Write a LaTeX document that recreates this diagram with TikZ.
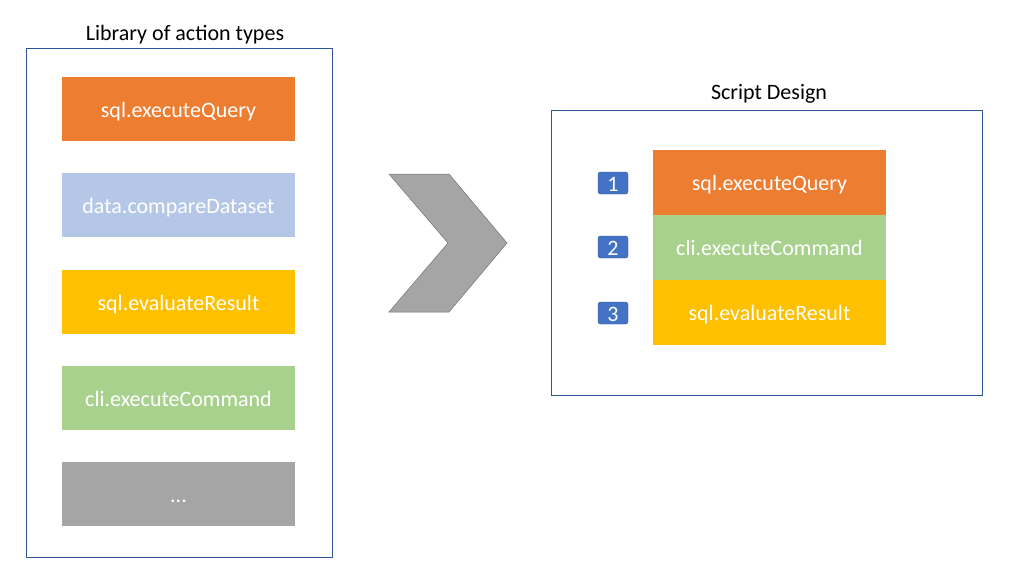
\documentclass[tikz,border=0pt]{standalone}
\usepackage{fontspec}
\setmainfont{Carlito}
\definecolor{actorange}{HTML}{ED7D31}
\definecolor{actblue}{HTML}{B4C7E7}
\definecolor{actyellow}{HTML}{FFC000}
\definecolor{actgreen}{HTML}{A9D18E}
\definecolor{actgray}{HTML}{A5A5A5}
\definecolor{framecol}{HTML}{2F5597}
\definecolor{badgecol}{HTML}{4472C4}
\begin{document}
\begin{tikzpicture}[x=1pt,y=-1pt]
\tikzstyle{every node}=[font=\fontsize{22}{26}\selectfont,text height=18pt,text depth=2pt]
\tikzstyle{action}=[minimum width=233pt,minimum height=64pt,inner sep=0pt,text=white]
\tikzstyle{frame}=[draw=framecol,line width=0.8pt,inner sep=0pt]
\tikzstyle{badge}=[draw=framecol,fill=badgecol,rounded corners=2.5pt,text=white,minimum width=30pt,minimum height=22pt,inner sep=0pt]
\useasboundingbox (0,0) rectangle (1031,587);

% library
\node[frame,minimum width=306pt,minimum height=509pt,text height=,text depth=] (lib) at (179,302.5) {};
\node (libtitle) at (185,32) {Library of action types};
\node[action,fill=actorange] (libquery) at (178.5,109) {sql.executeQuery};
\node[action,fill=actblue] (libcompare) at (178.5,205) {data.compareDataset};
\node[action,fill=actyellow] (libeval) at (178.5,302) {sql.evaluateResult};
\node[action,fill=actgreen] (libcmd) at (178.5,398) {cli.executeCommand};
\node[action,fill=actgray] (libmore) at (178.5,494) {...};

% chevron
\draw[fill=actgray,draw=gray!90!black,line width=0.5pt]
  (389,174) -- (449,174) -- (507,243) -- (449,312) -- (389,312) -- (448,243) -- cycle;

% script
\node[frame,minimum width=431pt,minimum height=285pt,text height=,text depth=] (script) at (766.5,252.5) {};
\node (scripttitle) at (769,91) {Script Design};
\node[action,fill=actorange,minimum height=65pt] (stepquery) at (769.5,182.5) {sql.executeQuery};
\node[action,fill=actgreen,minimum height=65pt] (stepcmd) at (769.5,247.5) {cli.executeCommand};
\node[action,fill=actyellow,minimum height=65pt] (stepeval) at (769.5,312.5) {sql.evaluateResult};
\node[badge] (one) at (613,183) {1};
\node[badge] (two) at (613,247) {2};
\node[badge] (three) at (613,313) {3};
\end{tikzpicture}
\end{document}
